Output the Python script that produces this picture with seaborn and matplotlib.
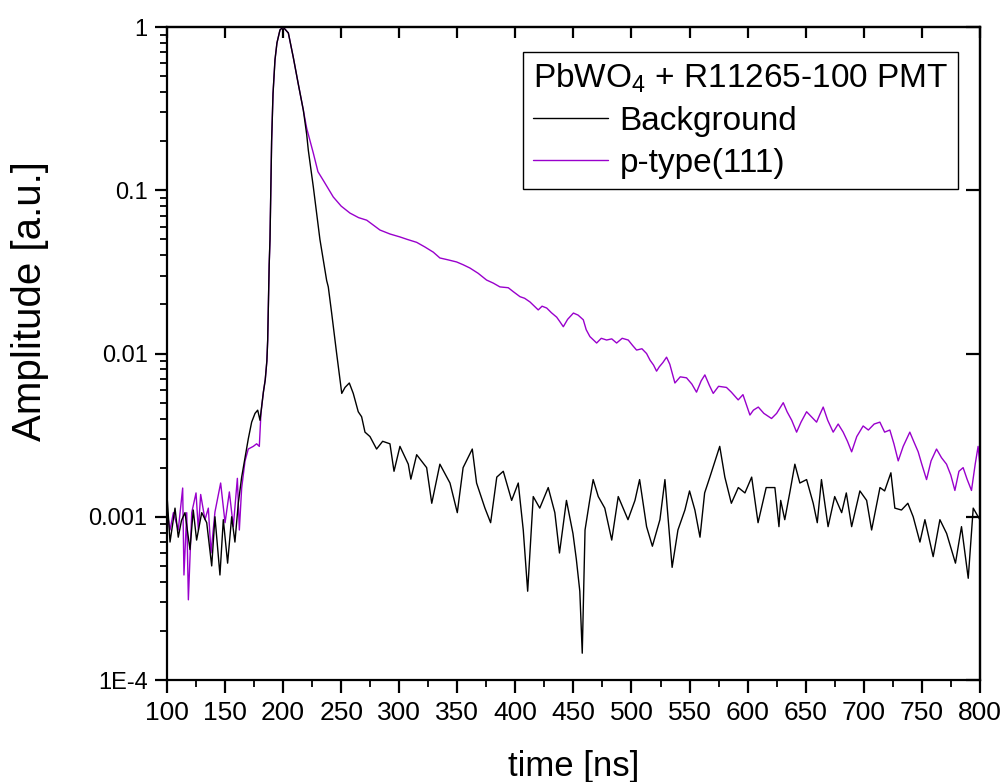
import numpy as np
import pandas as pd
import seaborn as sns
import matplotlib.pyplot as plt
from matplotlib.ticker import FixedLocator, NullLocator, LogLocator, NullFormatter

# time axis [ns] and amplitude readings for the two traces
BG_TIME = [
    100.3, 102.6, 106.9, 109.7, 112.5, 115.5, 119.8, 122.6, 125.5, 129.9,
    134.2, 138.5, 141.3, 145.6, 148.5, 152.2, 155.7, 158.5, 161.4, 164.3,
    167.2, 170.0, 172.9, 175.8, 178.1, 180.1, 183.0, 184.6, 186.0, 186.7,
    188.0, 188.7, 190.1, 191.3, 193.0, 194.7, 197.3, 200.0, 204.5, 208.8,
    213.0, 217.4, 220.3, 221.7, 226.0, 228.9, 231.7, 234.6, 237.5, 238.9,
    241.8, 246.1, 250.5, 253.3, 257.0, 260.4, 264.7, 267.6, 270.5, 274.8,
    280.5, 285.7, 292.0, 295.5, 300.6, 307.8, 310.0, 315.0, 323.6, 328.0,
    335.0, 343.7, 350.0, 355.0, 362.9, 366.6, 373.8, 378.7, 384.0, 389.6,
    396.8, 402.5, 406.8, 410.6, 415.4, 421.0, 428.3, 434.0, 438.0, 444.0,
    449.6, 452.5, 455.5, 457.6, 460.0, 464.0, 467.0, 471.4, 477.0, 483.0,
    488.6, 497.0, 503.0, 507.0, 513.0, 518.0, 524.5, 528.8, 535.0, 540.0,
    546.0, 550.0, 554.6, 559.0, 563.0, 567.5, 572.0, 576.0, 580.4, 586.0,
    592.0, 597.7, 603.5, 609.0, 616.0, 623.5, 627.0, 628.5, 632.0, 636.6,
    640.7, 645.0, 650.8, 656.5, 660.0, 663.6, 669.3, 675.0, 681.0, 685.0,
    689.6, 696.7, 702.5, 706.8, 714.0, 718.0, 723.4, 726.8, 732.5, 738.0,
    742.6, 748.4, 752.7, 759.8, 765.6, 771.4, 779.0, 784.2, 790.0, 794.3,
    800.0,
]
BG_AMP = [
    0.00126, 0.0007, 0.00113, 0.00075, 0.00095, 0.00106, 0.00063, 0.0011, 0.00072, 0.00106,
    0.00092, 0.0005, 0.001, 0.00044, 0.00096, 0.00052, 0.001, 0.0007, 0.00121, 0.00175,
    0.0023, 0.003, 0.0038, 0.0043, 0.0045, 0.0039, 0.0058, 0.0069, 0.009, 0.012,
    0.035, 0.05, 0.2, 0.39, 0.63, 0.8, 0.96, 1.0, 0.92, 0.65,
    0.45, 0.31, 0.22, 0.176, 0.105, 0.072, 0.05, 0.0374, 0.028, 0.0256,
    0.0177, 0.01, 0.0057, 0.0062, 0.0066, 0.0057, 0.0044, 0.0041, 0.0033, 0.0031,
    0.0026, 0.0029, 0.0028, 0.0019, 0.0027, 0.0021, 0.0017, 0.0024, 0.002, 0.00121,
    0.0021, 0.00161, 0.00106, 0.002, 0.0026, 0.00161, 0.00113, 0.00092, 0.00175, 0.0019,
    0.00126, 0.00161, 0.00083, 0.00035, 0.00133, 0.00113, 0.00151, 0.00106, 0.0006, 0.00126,
    0.00079, 0.00055, 0.00035, 0.000146, 0.00083, 0.00126, 0.00169, 0.00133, 0.00113, 0.00072,
    0.00133, 0.00096, 0.00126, 0.00169, 0.00087, 0.00066, 0.00096, 0.00169, 0.00049, 0.00083,
    0.0011, 0.00144, 0.0011, 0.00075, 0.0014, 0.00175, 0.0022, 0.0027, 0.00175, 0.00121,
    0.00151, 0.0014, 0.00175, 0.00092, 0.00151, 0.00151, 0.00087, 0.00126, 0.00096, 0.00144,
    0.0021, 0.00161, 0.00169, 0.00121, 0.00092, 0.00169, 0.00087, 0.00133, 0.00106, 0.0014,
    0.00087, 0.00144, 0.00126, 0.00083, 0.00151, 0.00144, 0.00186, 0.00113, 0.0011, 0.00121,
    0.001, 0.0007, 0.00096, 0.00057, 0.00096, 0.00079, 0.00052, 0.00087, 0.00042, 0.00113,
    0.00096,
]

PT_TIME = [
    100.3, 102.6, 105.5, 109.7, 113.5, 114.6, 117.0, 118.4, 121.3, 125.0,
    127.0, 129.0, 132.7, 135.6, 137.9, 141.3, 146.2, 150.0, 153.7, 157.1,
    160.6, 162.3, 164.3, 167.2, 170.0, 174.3, 177.2, 179.5, 180.9, 183.0,
    184.6, 186.0, 186.7, 188.0, 188.7, 190.1, 191.3, 193.0, 194.7, 197.3,
    200.0, 204.5, 208.8, 213.0, 217.4, 220.3, 226.0, 230.0, 234.6, 243.2,
    250.0, 257.6, 265.0, 272.0, 283.4, 292.0, 300.6, 307.0, 315.0, 322.0,
    329.3, 335.0, 342.0, 349.4, 355.0, 360.9, 368.0, 375.2, 381.0, 386.7,
    393.9, 398.0, 404.0, 408.0, 412.6, 419.7, 423.0, 427.0, 431.0, 435.6,
    438.0, 441.3, 445.0, 450.0, 454.0, 458.5, 461.0, 464.2, 470.0, 474.0,
    478.6, 483.0, 487.2, 492.0, 497.2, 501.0, 504.4, 509.0, 513.0, 516.0,
    519.0, 521.6, 524.0, 527.0, 530.2, 533.0, 537.4, 542.0, 547.4, 552.0,
    556.0, 560.0, 563.2, 567.0, 570.4, 575.0, 581.8, 586.0, 591.9, 596.0,
    602.0, 605.0, 609.2, 614.0, 620.6, 625.0, 630.7, 634.0, 638.0, 642.2,
    646.0, 650.8, 655.0, 659.4, 662.0, 665.1, 669.0, 673.7, 678.0, 682.3,
    686.0, 689.6, 694.0, 699.5, 704.0, 709.0, 713.9, 718.0, 722.5, 726.0,
    729.7, 734.0, 739.7, 743.0, 746.9, 750.0, 754.1, 758.0, 762.7, 767.0,
    771.3, 775.0, 778.5, 782.0, 785.6, 789.0, 792.8, 796.0, 798.5, 800.0,
]
PT_AMP = [
    0.00106, 0.00083, 0.00106, 0.00083, 0.0015, 0.00044, 0.00106, 0.00031, 0.00106, 0.0014,
    0.00083, 0.00137, 0.00096, 0.00113, 0.0006, 0.00107, 0.00161, 0.00092, 0.00142, 0.00087,
    0.00172, 0.00083, 0.0015, 0.0022, 0.0026, 0.0027, 0.0028, 0.0027, 0.0043, 0.0058,
    0.0069, 0.009, 0.012, 0.035, 0.05, 0.2, 0.39, 0.63, 0.8, 0.96,
    1.0, 0.92, 0.65, 0.45, 0.31, 0.24, 0.169, 0.13, 0.115, 0.091,
    0.08, 0.0725, 0.068, 0.0656, 0.0571, 0.054, 0.0518, 0.05, 0.048, 0.045,
    0.0418, 0.0385, 0.0375, 0.0364, 0.035, 0.0334, 0.031, 0.0282, 0.027, 0.0256,
    0.0253, 0.024, 0.0223, 0.0218, 0.0207, 0.0185, 0.0195, 0.019, 0.0178, 0.0167,
    0.0158, 0.0146, 0.0162, 0.0177, 0.0172, 0.0161, 0.014, 0.0127, 0.0116, 0.0124,
    0.0121, 0.0123, 0.0116, 0.0124, 0.0121, 0.0112, 0.0105, 0.0107, 0.01, 0.0091,
    0.0085, 0.0078, 0.0083, 0.0088, 0.0095, 0.0086, 0.0066, 0.0072, 0.0071, 0.0065,
    0.0058, 0.0068, 0.0074, 0.0064, 0.0057, 0.0063, 0.0062, 0.0058, 0.0052, 0.0056,
    0.0042, 0.0045, 0.0047, 0.0043, 0.004, 0.0043, 0.005, 0.0044, 0.0039, 0.0033,
    0.0038, 0.0044, 0.0041, 0.0038, 0.0042, 0.0047, 0.0039, 0.0033, 0.0037, 0.0033,
    0.0029, 0.0025, 0.0031, 0.0036, 0.0034, 0.0037, 0.0038, 0.0033, 0.0034, 0.0028,
    0.0022, 0.0027, 0.0033, 0.0029, 0.0025, 0.0021, 0.00169, 0.0022, 0.0026, 0.0023,
    0.0021, 0.0018, 0.00145, 0.0019, 0.002, 0.0017, 0.00145, 0.0021, 0.0027, 0.0021,
]

X_TICKS = [100, 150, 200, 250, 300, 350, 400, 450, 500, 550, 600, 650, 700, 750, 800]
Y_TICKS = [1e-4, 1e-3, 1e-2, 1e-1, 1]
Y_TICK_LABELS = ["1E-4", "0.001", "0.01", "0.1", "1"]

sns.set_style("white")
plt.rcParams['font.family'] = ['Liberation Sans', 'DejaVu Sans']
plt.rcParams['mathtext.default'] = 'regular'
plt.rcParams['text.color'] = 'black'
plt.rcParams['axes.labelcolor'] = 'black'
plt.rcParams['xtick.color'] = 'black'
plt.rcParams['ytick.color'] = 'black'

bg = pd.DataFrame({"time": BG_TIME, "amp": BG_AMP})
pt = pd.DataFrame({"time": PT_TIME, "amp": PT_AMP})

fig = plt.figure(figsize=(10.06, 7.82), dpi=100)
ax = fig.add_axes([0.166, 0.1304, 0.808, 0.835])

sns.lineplot(data=pt, x="time", y="amp", color="#9900cc", lw=1.0,
             estimator=None, sort=False, ax=ax, label="p-type(111)", zorder=2)
sns.lineplot(data=bg, x="time", y="amp", color="black", lw=1.0,
             estimator=None, sort=False, ax=ax, label="Background", zorder=3)

ax.set_yscale("log")
ax.set_xlim(100, 800)
ax.set_ylim(1e-4, 1)

ax.set_xticks(X_TICKS)
ax.xaxis.set_minor_locator(FixedLocator(np.arange(125, 800, 50)))
ax.set_yticks(Y_TICKS)
ax.set_yticklabels(Y_TICK_LABELS)
ax.yaxis.set_minor_locator(LogLocator(base=10, subs=np.arange(2, 10)))
ax.yaxis.set_minor_formatter(NullFormatter())

ax.tick_params(which="both", direction="out", bottom=True, left=True,
               top=False, right=False, colors="black")
ax.tick_params(which="major", length=9, width=1.6)
ax.tick_params(which="minor", length=5, width=1.3)
ax.tick_params(axis="x", which="major", labelsize=19, pad=6)
ax.tick_params(axis="y", which="major", labelsize=17, pad=5)
for s in ax.spines.values():
    s.set_linewidth(1.6)
    s.set_color("black")

# inward ticks on top and right sides
top = ax.secondary_xaxis("top")
top.set_xticks(X_TICKS)
top.xaxis.set_minor_locator(NullLocator())
top.tick_params(direction="in", length=8, width=1.6, labeltop=False, colors="black")
top.spines["top"].set_linewidth(1.6)
right = ax.secondary_yaxis("right")
right.set_yticks(Y_TICKS)
right.yaxis.set_minor_locator(NullLocator())
right.tick_params(which="major", direction="in", length=10, width=1.6,
                  labelright=False, colors="black")
right.tick_params(which="minor", length=0)
right.spines["right"].set_linewidth(1.6)

ax.set_xlabel("time [ns]", fontsize=25, va="center")
ax.set_ylabel("Amplitude [a.u.]", fontsize=29, va="center")
ax.xaxis.set_label_coords(0.5, -0.133)
ax.yaxis.set_label_coords(-0.168, 0.58)

handles, labels = ax.get_legend_handles_labels()
order = [labels.index("Background"), labels.index("p-type(111)")]
leg = ax.legend([handles[i] for i in order], [labels[i] for i in order],
                title="PbWO$_4$ + R11265-100 PMT", loc="upper right",
                bbox_to_anchor=(0.973, 0.962), borderaxespad=0, fontsize=24,
                title_fontsize=24, fancybox=False, frameon=True, edgecolor="black",
                framealpha=1, handlelength=2.25, handletextpad=0.35, borderpad=0.3,
                labelspacing=0.32, alignment="left")
leg.get_frame().set_linewidth(1.0)

fig.savefig("out.png", dpi=100)
